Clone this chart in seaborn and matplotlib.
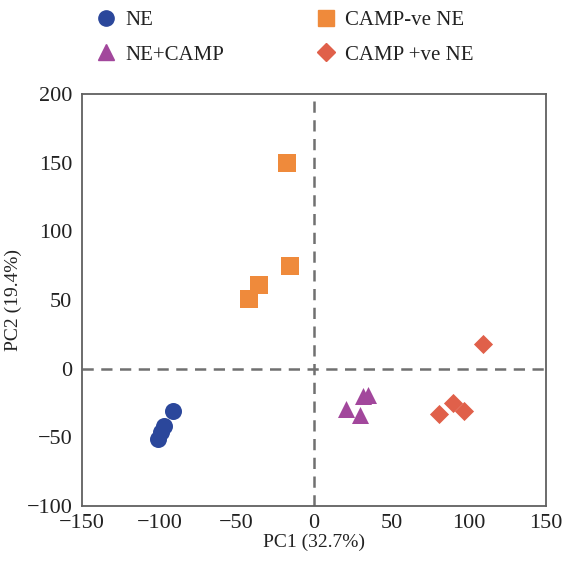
import matplotlib
matplotlib.use("Agg")
import matplotlib.pyplot as plt
import seaborn as sns
import pandas as pd

# PCA scores per group
groups = ["NE", "CAMP-ve NE", "NE+CAMP", "CAMP +ve NE"]
ne_pc1 = [-91, -97, -99, -101]
ne_pc2 = [-31, -42, -46, -51]
neg_pc1 = [-17.5, -15.5, -35.5, -42]
neg_pc2 = [150, 75, 61, 51]
camp_pc1 = [21, 30, 32, 35]
camp_pc2 = [-29, -34, -20, -19]
pos_pc1 = [109, 81, 90, 97]
pos_pc2 = [18, -33, -25, -31]

xticks = [-150, -100, -50, 0, 50, 100, 150]
yticks = [-100, -50, 0, 50, 100, 150, 200]

frames = []
for name, xs, ys in [("NE", ne_pc1, ne_pc2), ("CAMP-ve NE", neg_pc1, neg_pc2),
                     ("NE+CAMP", camp_pc1, camp_pc2), ("CAMP +ve NE", pos_pc1, pos_pc2)]:
    frames.append(pd.DataFrame({"PC1": xs, "PC2": ys, "group": name}))
df = pd.concat(frames, ignore_index=True)

palette = {"NE": "#2b479b", "CAMP-ve NE": "#ef8a3b",
           "NE+CAMP": "#a2479c", "CAMP +ve NE": "#e0604a"}
markers = {"NE": "o", "CAMP-ve NE": "s", "NE+CAMP": "^", "CAMP +ve NE": "D"}
sizes = {"NE": 150, "CAMP-ve NE": 160, "NE+CAMP": 150, "CAMP +ve NE": 95}

sns.set_style("white")
plt.rcParams["font.family"] = ["Liberation Serif", "DejaVu Serif"]

fig = plt.figure(figsize=(5.72, 5.62), dpi=100)
ax = fig.add_axes([0.1434, 0.0996, 0.8111, 0.7331])

ax.axhline(0, color="#707070", lw=1.8, ls=(0, (4.5, 3)), zorder=1)
ax.axvline(0, color="#707070", lw=1.8, ls=(0, (4.5, 3)), zorder=1)

handles = {}
for g in groups:
    sub = df[df["group"] == g]
    sns.scatterplot(data=sub, x="PC1", y="PC2", ax=ax, color=palette[g],
                    marker=markers[g], s=sizes[g], linewidth=0, zorder=3,
                    legend=False)
    handles[g] = plt.Line2D([], [], ls="", marker=markers[g], color=palette[g],
                            markersize=11 if g != "CAMP +ve NE" else 9)

ax.set_xlim(-150, 150)
ax.set_ylim(-100, 200)
ax.set_xticks(xticks)
ax.set_yticks(yticks)
ax.set_xticklabels(["\u2212" + str(-t) if t < 0 else str(t) for t in xticks])
ax.set_yticklabels(["\u2212" + str(-t) if t < 0 else str(t) for t in yticks])
ax.tick_params(direction="in", length=6, width=1.2, color="#606060",
               labelsize=16, labelcolor="#222222")
ax.tick_params(axis="x", pad=6)
ax.tick_params(axis="y", pad=7)
for sp in ax.spines.values():
    sp.set_color("#606060")
    sp.set_linewidth(1.3)
ax.set_xlabel("PC1 (32.7%)", fontsize=14, color="#222222", labelpad=0)
ax.set_ylabel("PC2 (19.4%)", fontsize=14, color="#222222", labelpad=3)

order = ["NE", "NE+CAMP", "CAMP-ve NE", "CAMP +ve NE"]
fig.legend([handles[g] for g in order], order, ncol=2, frameon=False,
           loc="upper left", bbox_to_anchor=(0.131, 1.014), fontsize=15,
           handletextpad=0.3, columnspacing=4.3, labelspacing=0.7,
           handlelength=1.2, labelcolor="#222222")

fig.savefig("out.png", dpi=100)
